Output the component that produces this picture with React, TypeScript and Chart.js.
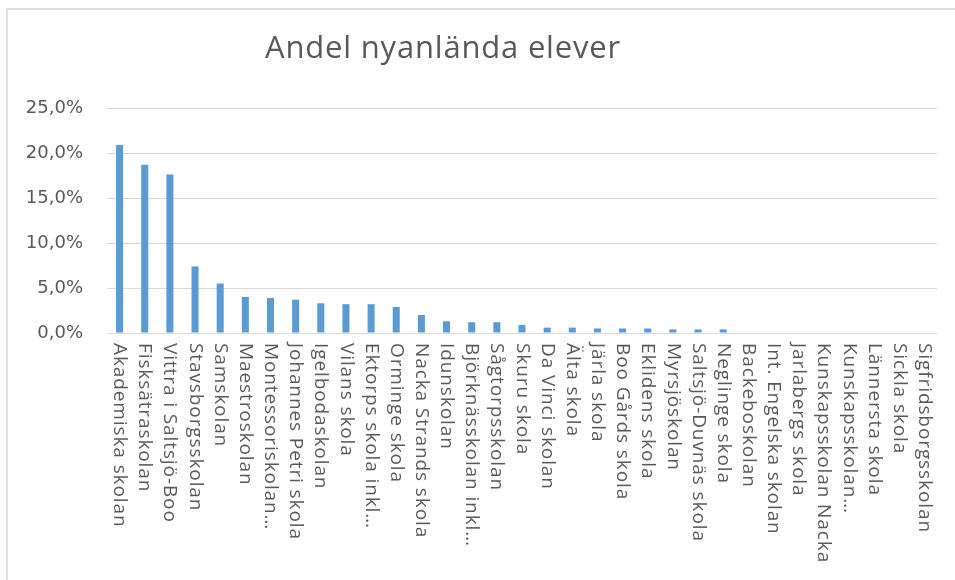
import React, { useEffect, useRef } from "react";
import { Chart, registerables } from "chart.js";

Chart.register(...registerables);

const TITLE = "Andel nyanlända elever";

const SCHOOLS: string[] = [
  "Akademiska skolan",
  "Fisksätraskolan",
  "Vittra i Saltsjö-Boo",
  "Stavsborgsskolan",
  "Samskolan",
  "Maestroskolan",
  "Montessoriskolan…",
  "Johannes Petri skola",
  "Igelbodaskolan",
  "Vilans skola",
  "Ektorps skola inkl…",
  "Orminge skola",
  "Nacka Strands skola",
  "Idunskolan",
  "Björknässkolan inkl…",
  "Sågtorpsskolan",
  "Skuru skola",
  "Da Vinci skolan",
  "Älta skola",
  "Järla skola",
  "Boo Gårds skola",
  "Eklidens skola",
  "Myrsjöskolan",
  "Saltsjö-Duvnäs skola",
  "Neglinge skola",
  "Backeboskolan",
  "Int. Engelska skolan",
  "Jarlabergs skola",
  "Kunskapsskolan Nacka",
  "Kunskapsskolan…",
  "Lännersta skola",
  "Sickla skola",
  "Sigfridsborgsskolan",
];

// Andel nyanlända elever, percent
const SHARE: number[] = [
  20.9, 18.7, 17.6, 7.4, 5.5, 4.0, 3.9, 3.7, 3.3, 3.2, 3.2, 2.9, 2.0, 1.3,
  1.2, 1.2, 0.9, 0.6, 0.6, 0.5, 0.5, 0.5, 0.4, 0.4, 0.4, 0, 0, 0, 0, 0, 0, 0,
  0,
];

const Y_MIN = 0;
const Y_MAX = 25;
const Y_STEP = 5;

const TEXT_COLOR = "#595959";
const GRID_COLOR = "#d9d9d9";
const BAR_COLOR = "#5b9bd5";
const FONT = "'Open Sans', 'DejaVu Sans', sans-serif";

const fmtPct = (v: number) => v.toFixed(1).replace(".", ",") + "%";

const titlePlugin = {
  id: "customTitle",
  afterDraw(chart: any) {
    const ctx = chart.ctx as CanvasRenderingContext2D;
    ctx.save();
    ctx.font = `400 31px ${FONT}`;
    ctx.fillStyle = TEXT_COLOR;
    ctx.textAlign = "center";
    ctx.textBaseline = "alphabetic";
    (ctx as any).letterSpacing = "0.8px";
    ctx.fillText(TITLE, 443, 58);
    ctx.restore();
  },
};

const xLabelPlugin = {
  id: "verticalLabels",
  afterDraw(chart: any) {
    const ctx = chart.ctx as CanvasRenderingContext2D;
    const xs = chart.scales.x;
    const top = chart.chartArea.bottom + 10;
    ctx.save();
    ctx.font = `19px ${FONT}`;
    ctx.fillStyle = TEXT_COLOR;
    ctx.textAlign = "left";
    ctx.textBaseline = "middle";
    (ctx as any).letterSpacing = "0.9px";
    const labels: string[] = chart.data.labels;
    labels.forEach((lab, i) => {
      const x = xs.getPixelForTick(i);
      ctx.save();
      ctx.translate(x, top);
      ctx.rotate(Math.PI / 2);
      ctx.fillText(lab, 0, 0);
      ctx.restore();
    });
    ctx.restore();
  },
};

export default function App() {
  const ref = useRef<HTMLCanvasElement | null>(null);

  useEffect(() => {
    if (!ref.current) return;
    const chart = new Chart(ref.current, {
      type: "bar",
      data: {
        labels: SCHOOLS,
        datasets: [
          {
            label: TITLE,
            data: SHARE,
            backgroundColor: BAR_COLOR,
            borderWidth: 0,
            barPercentage: 0.28,
            categoryPercentage: 1,
          },
        ],
      },
      options: {
        animation: false,
        responsive: false,
        maintainAspectRatio: false,
        devicePixelRatio: 1,
        layout: { padding: { top: 108, left: 0, right: 18, bottom: 0 } },
        plugins: {
          legend: { display: false },
          title: { display: false },
          tooltip: { enabled: false },
        },
        scales: {
          x: {
            grid: { display: false, drawTicks: false },
            border: { display: false },
            ticks: { display: false },
            afterFit: (s: any) => {
              s.height = 247;
            },
          },
          y: {
            min: Y_MIN,
            max: Y_MAX,
            border: { display: false },
            grid: { color: GRID_COLOR, drawTicks: false, lineWidth: 1 },
            ticks: {
              stepSize: Y_STEP,
              padding: 24,
              color: TEXT_COLOR,
              font: { family: "'DejaVu Sans', sans-serif", size: 18 },
              callback: (v: any) => fmtPct(Number(v)),
            },
            afterFit: (s: any) => {
              s.width = 107;
            },
          },
        },
      },
      plugins: [titlePlugin, xLabelPlugin],
    });
    return () => chart.destroy();
  }, []);

  return (
    <div
      style={{
        position: "fixed",
        left: 0,
        top: 0,
        width: 955,
        height: 580,
        background: "#ffffff",
      }}
    >
      <div
        style={{
          position: "absolute",
          left: 6,
          top: 8,
          right: 0,
          bottom: 0,
          borderTop: "2px solid #dedede",
          borderLeft: "2px solid #dedede",
        }}
      />
      <canvas
        ref={ref}
        width={955}
        height={580}
        style={{ position: "absolute", left: 0, top: 0, width: 955, height: 580 }}
      />
    </div>
  );
}
